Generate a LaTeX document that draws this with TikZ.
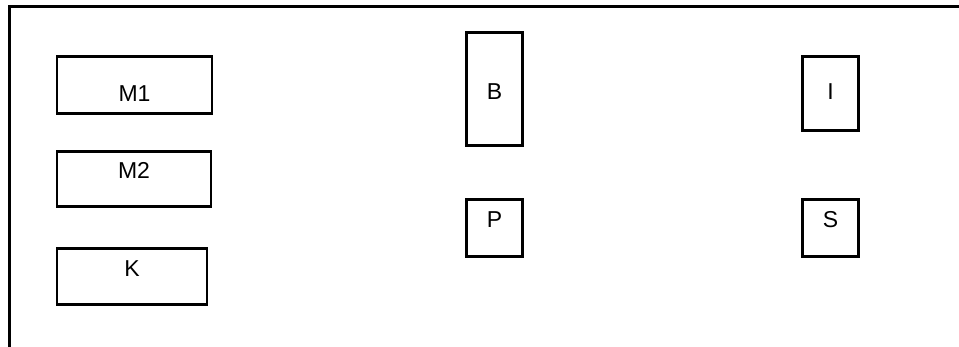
\documentclass[tikz,border=0pt]{standalone}
\usepackage{fontspec}
\setmainfont{Liberation Sans}
\usepackage{tikz}
\usetikzlibrary{positioning}

\tikzset{
  unitbox/.style={draw=black, line width=2.6pt, inner sep=0pt, anchor=north,
                  font=\fontsize{23}{27}\selectfont},
}

\begin{document}
\begin{tikzpicture}[x=1pt, y=-1pt]

\useasboundingbox (0,0) rectangle (959,347);

% Frame
\coordinate (fbl) at (9.5,347);
\coordinate (ftl) at (9.5,6.5);
\coordinate (ftr) at (959,6.5);
\draw[line width=2.6pt] (fbl) -- (ftl) -- (ftr);

% Left column
\node (m1) at (134.5,55.5) [unitbox, minimum width=155pt, text height=44.5pt, text depth=12.5pt] {M1};
\node (m2) at (134,150.5) [unitbox, minimum width=154pt, text height=26.5pt, text depth=28.5pt] {M2};
\node (k) at (132,247.5) [unitbox, minimum width=150pt, text height=27.5pt, text depth=28.5pt] {K};

% Middle column
\node (b) at (494.5,31.5) [unitbox, minimum width=56pt, text height=66.5pt, text depth=46.5pt] {B};
\node (p) at (494.5,198.5) [unitbox, minimum width=56pt, text height=27.5pt, text depth=29pt] {P};

% Right column
\node (i) at (830.5,55.5) [unitbox, minimum width=56pt, text height=42.5pt, text depth=31.5pt] {I};
\node (s) at (830.5,198.5) [unitbox, minimum width=56pt, text height=27.5pt, text depth=29pt] {S};

\end{tikzpicture}
\end{document}
